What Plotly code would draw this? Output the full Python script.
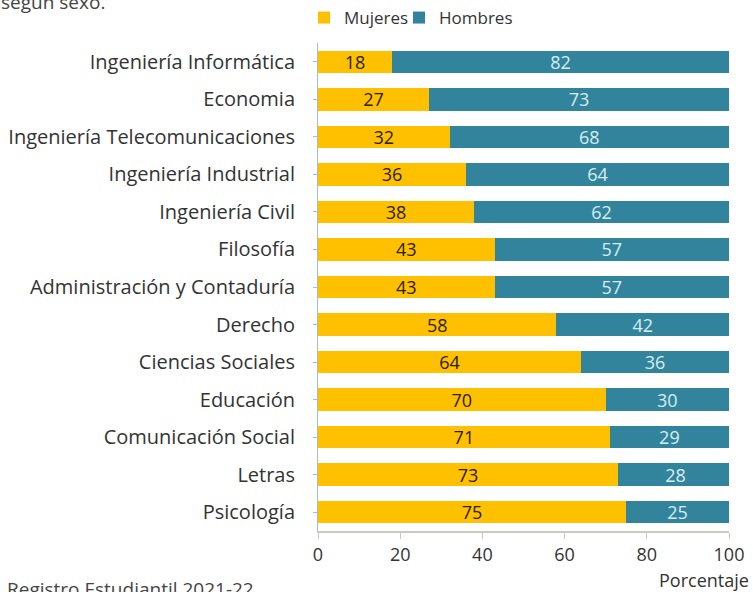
import plotly.graph_objects as go

carreras = ["Ingeniería Informática", "Economia", "Ingeniería Telecomunicaciones",
            "Ingeniería Industrial", "Ingeniería Civil", "Filosofía",
            "Administración y Contaduría", "Derecho", "Ciencias Sociales",
            "Educación", "Comunicación Social", "Letras", "Psicología"]
mujeres = [18, 27, 32, 36, 38, 43, 43, 58, 64, 70, 71, 73, 75]
hombres = [82, 73, 68, 64, 62, 57, 57, 42, 36, 30, 29, 28, 25]
x_ticks = [0, 20, 40, 60, 80, 100]

W, H = 753, 592
L, R, T, B = 318, 24, 43, 61
pw, ph = W - L - R, H - T - B
FONT = "Open Sans"


def px_x(x):
    return (x - L) / pw


def px_y(y):
    return (H - B - y) / ph


fig = go.Figure()
fig.add_trace(go.Bar(y=carreras, x=mujeres, name="Mujeres", orientation="h",
                     marker=dict(color="#FFC000", line=dict(width=0)),
                     text=mujeres, textposition="inside", insidetextanchor="middle",
                     textangle=0, constraintext="none", legend="legend",
                     textfont=dict(family=FONT, size=18, color="#2b2100")))
fig.add_trace(go.Bar(y=carreras, x=hombres, name="Hombres", orientation="h",
                     marker=dict(color="#31849B", line=dict(width=0)),
                     text=hombres, textposition="inside", insidetextanchor="middle",
                     textangle=0, constraintext="none", legend="legend2",
                     textfont=dict(family=FONT, size=18, color="#d8ecf3")))

leg_common = dict(orientation="h", xanchor="left", yanchor="middle",
                  font=dict(family=FONT, size=17, color="#333333"),
                  itemwidth=30, bgcolor="rgba(0,0,0,0)")

fig.update_layout(
    width=W, height=H, barmode="stack", bargap=0.4,
    paper_bgcolor="white", plot_bgcolor="white",
    margin=dict(l=L, r=R, t=T, b=B, autoexpand=False),
    font=dict(family=FONT, size=18, color="#333333"),
    legend=dict(x=px_x(304), y=px_y(18), **leg_common),
    legend2=dict(x=px_x(399), y=px_y(18), **leg_common),
    showlegend=True,
)
fig.update_yaxes(autorange="reversed", showline=True, linecolor="#9fbfd6", linewidth=1,
                 ticks="outside", ticklen=4, tickcolor="#9fbfd6", ticklabelstandoff=14,
                 tickfont=dict(family=FONT, size=20, color="#333333"),
                 showgrid=False)
fig.update_xaxes(range=[0, 100], tickvals=x_ticks, showline=True, linecolor="#c8ccc0",
                 linewidth=2, ticks="outside", ticklen=6, tickcolor="#c8ccc0",
                 tickfont=dict(family=FONT, size=18, color="#333333"),
                 showgrid=False, zeroline=False)

fig.add_annotation(text="Porcentaje", xref="paper", yref="paper",
                   x=px_x(751), y=px_y(580), xanchor="right", yanchor="middle",
                   showarrow=False, font=dict(family=FONT, size=18, color="#333333"))
fig.add_annotation(text="según sexo.", xref="paper", yref="paper",
                   x=px_x(-1), y=px_y(2), xanchor="left", yanchor="middle",
                   showarrow=False, font=dict(family=FONT, size=19, color="#444444"))
fig.add_annotation(text="Registro Estudiantil 2021-22", xref="paper", yref="paper",
                   x=px_x(5), y=px_y(589), xanchor="left", yanchor="middle",
                   showarrow=False, font=dict(family=FONT, size=19, color="#444444"))

fig.write_html("out.html", config={"displayModeBar": False},
               post_script="document.body.style.margin='0';document.body.style.overflow='hidden';")
